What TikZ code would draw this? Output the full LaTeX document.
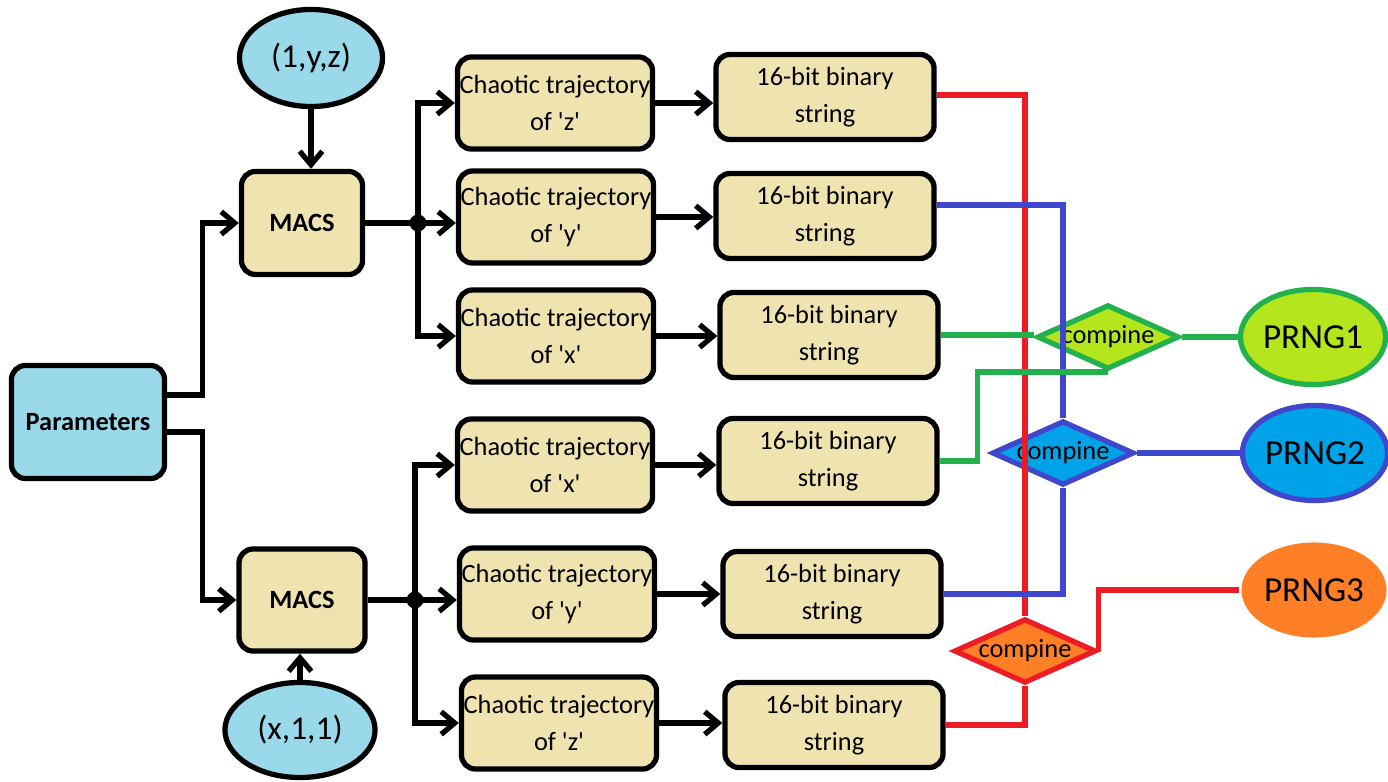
\documentclass[tikz,border=0pt]{standalone}
\usepackage{fontspec}
\setmainfont{Carlito}
\usepackage{tikz}
\usetikzlibrary{shapes.geometric,arrows.meta,positioning,calc}
\usepackage{xcolor}
\definecolor{tanbox}{RGB}{239,228,176}
\definecolor{skyfill}{RGB}{153,217,234}
\definecolor{limefill}{RGB}{181,230,29}
\definecolor{greenline}{RGB}{34,177,76}
\definecolor{bluefill}{RGB}{0,162,232}
\definecolor{blueline}{RGB}{63,72,204}
\definecolor{orangefill}{RGB}{255,127,39}
\definecolor{redline}{RGB}{237,28,36}
\newcommand{\q}{\textquotesingle}

\begin{document}
\begin{tikzpicture}[x=0.01cm, y=-0.01cm, line width=1.5pt,
  every node/.style={font=\fontsize{7.5}{10.5}\selectfont},
  box/.style={draw, rounded corners=4pt, fill=tanbox, align=center, inner sep=0pt},
  traj/.style={box, minimum width=1.95cm, minimum height=0.92cm},
  bits/.style={box, minimum width=2.18cm, minimum height=0.85cm},
  seed/.style={draw, ellipse, fill=skyfill, inner sep=0pt, font=\fontsize{9.5}{11}\selectfont},
  combo/.style={draw, diamond, aspect=2.2, inner sep=0pt},
  prng/.style={ellipse, inner sep=0pt, minimum width=1.45cm, minimum height=0.95cm, font=\fontsize{10}{12}\selectfont},
  arr/.style={-{Straight Barb[angle=80:5pt]}}]
  \useasboundingbox (0,0) rectangle (1388,782);

  % inputs
  \node[box, fill=skyfill, minimum width=1.53cm, minimum height=1.13cm] (params) at (88,422) {\textbf{Parameters}};
  \node[seed, minimum width=1.43cm, minimum height=0.97cm] (ini1) at (311,58) {(1,y,z)};
  \node[seed, minimum width=1.5cm, minimum height=0.95cm] (ini2) at (300,730) {(x,1,1)};
  \node[box, minimum width=1.21cm, minimum height=1.03cm] (macs1) at (302,223) {\textbf{MACS}};
  \node[box, minimum width=1.26cm, minimum height=1.02cm] (macs2) at (302,600) {\textbf{MACS}};

  % trajectories and binary strings
  \node[traj] (traj1) at (555,103) {Chaotic trajectory\\of \q z\q};
  \node[traj] (traj2) at (556,217) {Chaotic trajectory\\of \q y\q};
  \node[traj] (traj3) at (556,336) {Chaotic trajectory\\of \q x\q};
  \node[traj] (traj4) at (555,465) {Chaotic trajectory\\of \q x\q};
  \node[traj] (traj5) at (557,594) {Chaotic trajectory\\of \q y\q};
  \node[traj] (traj6) at (559,723) {Chaotic trajectory\\of \q z\q};
  \node[bits] (bin1) at (825,97) {16-bit binary\\string};
  \node[bits] (bin2) at (825,216) {16-bit binary\\string};
  \node[bits] (bin3) at (829,335) {16-bit binary\\string};
  \node[bits] (bin4) at (828,461) {16-bit binary\\string};
  \node[bits] (bin5) at (832,594) {16-bit binary\\string};
  \node[bits] (bin6) at (834,725) {16-bit binary\\string};

  % combiners and outputs
  \node[combo, fill=limefill, draw=greenline] (comb1) at (1108,337) {compine};
  \node[combo, fill=bluefill, draw=blueline] (comb2) at (1063,453) {compine};
  \node[combo, fill=orangefill, draw=redline] (comb3) at (1025,651) {compine};
  \node[prng, draw=greenline, fill=limefill] (prng1) at (1313,337) {PRNG1};
  \node[prng, draw=blueline, fill=bluefill] (prng2) at (1315,453) {PRNG2};
  \node[prng, fill=orangefill] (prng3) at (1314,590) {PRNG3};

  \coordinate (b1) at (418,223);
  \coordinate (b2) at (415,600);

  % black connectors
  \draw[arr] ([yshift=0.27cm]params.east) -- ++(35,0) |- (macs1.west);
  \draw[arr] ([yshift=-0.1cm]params.east) -- ++(35,0) |- (macs2.west);
  \draw[arr] (ini1.south) -- (ini1.south |- macs1.north);
  \draw[arr] (ini2.north) -- (ini2.north |- macs2.south);
  \draw (macs1.east |- b1) -- (b1);
  \draw (macs2.east |- b2) -- (b2);
  \fill (b1) circle (2.4pt);
  \fill (b2) circle (2.4pt);
  \draw[arr] (b1) |- (traj1.west);
  \draw[arr] (b1) -- (b1 -| traj2.west);
  \draw[arr] (b1) |- (traj3.west);
  \draw[arr] (b2) |- (traj4.west);
  \draw[arr] (b2) -- (b2 -| traj5.west);
  \draw[arr] (b2) |- (traj6.west);
  \foreach \i in {1,...,6}
    \draw[arr] (traj\i.east) -- (traj\i.east -| bin\i.west);

  % coloured connectors
  \draw[redline] ([yshift=0.02cm]bin1.east) -| (comb3.north);
  \draw[redline] (bin6.east) -| (comb3.south);
  \draw[redline] (comb3.east) |- (prng3.west);
  \draw[blueline] ([yshift=0.11cm]bin2.east) -| (comb2.north);
  \draw[blueline] (bin5.east) -| (comb2.south);
  \draw[blueline] (comb2.east) -- (prng2.west);
  \draw[greenline] (bin3.east) -- (bin3.east -| comb1.west);
  \draw[greenline] (bin4.east) -- ++(38,0) |- (comb1.south);
  \draw[greenline] (comb1.east) -- (prng1.west);
\end{tikzpicture}
\end{document}
